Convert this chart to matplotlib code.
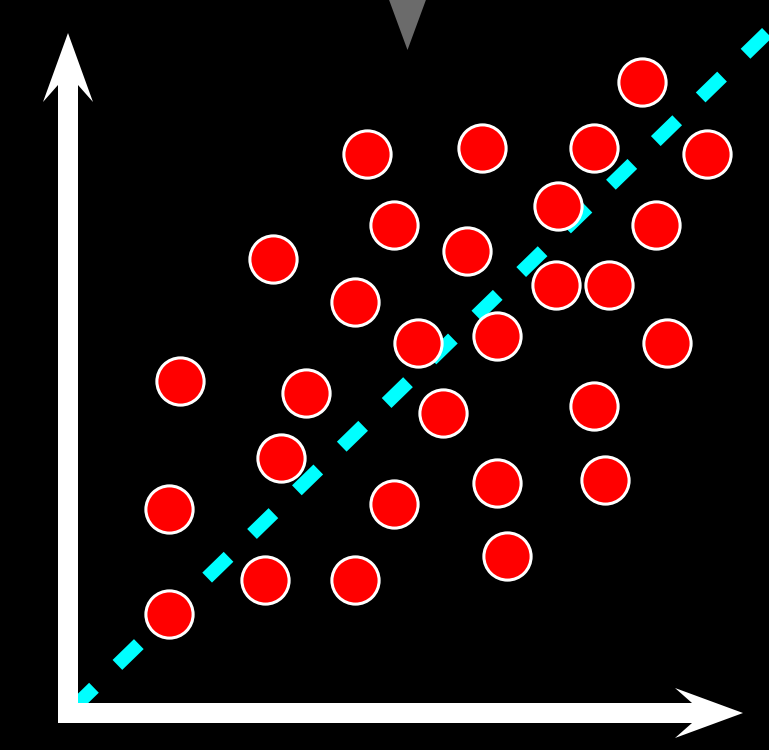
import numpy as np
import matplotlib
matplotlib.use("Agg")
import matplotlib.pyplot as plt
from matplotlib.patches import Polygon

# Data (arbitrary units, origin at the axis corner)
x_vals = [11.48, 5.98, 8.28, 10.52, 12.78, 6.52, 9.80, 11.76, 4.10, 7.98,
          5.74, 9.76, 10.82, 7.00, 8.58, 11.98, 2.24, 4.76, 7.50, 10.52,
          4.26, 2.02, 6.52, 8.58, 10.74, 8.78, 3.94, 5.74, 2.02]
y_vals = [12.62, 11.18, 11.30, 11.30, 11.18, 9.76, 10.14, 9.76, 9.08, 9.24,
          8.22, 8.56, 8.56, 7.40, 7.54, 7.40, 6.64, 6.40, 6.00, 6.14,
          5.10, 4.08, 4.18, 4.60, 4.66, 3.14, 2.66, 2.66, 1.98]
trend_slope = 0.973
trend_intercept = 0.0
trend_x = [0.0, 15.0]
marker_x = 6.79   # grey pointer at the top

fig = plt.figure(figsize=(7.69, 7.5), dpi=100, facecolor="black")
ax = fig.add_axes([0, 0, 1, 1])
ax.set_facecolor("black")
ax.set_xlim(-1.36, 14.02)
ax.set_ylim(-0.74, 14.26)
ax.axis("off")

tx = np.array(trend_x)
ax.plot(tx, trend_intercept + trend_slope * tx, color="#00ffff", lw=10,
        linestyle=(4.05, (2.15, 2.357)), dash_capstyle="butt", zorder=2)

ax.scatter(x_vals, y_vals, s=34 ** 2, c="#ff0000", edgecolors="white",
           linewidths=2.2, zorder=3)

# axis arrows
hw, head_hw = 0.2, 0.5
v_tip, v_corner, v_notch = 13.6, 12.22, 12.56
h_tip, h_corner, h_notch = 13.5, 12.14, 12.48
vert = [(-hw, -hw), (hw, -hw), (hw, v_notch), (head_hw, v_corner), (0, v_tip),
        (-head_hw, v_corner), (-hw, v_notch)]
horiz = [(-hw, -hw), (h_notch, -hw), (h_corner, -head_hw), (h_tip, 0),
         (h_corner, head_hw), (h_notch, hw), (-hw, hw)]
for pts in (vert, horiz):
    ax.add_patch(Polygon(pts, closed=True, facecolor="white", edgecolor="none", zorder=4))

# grey pointer triangle at top
apex_y, half_w_top = 13.26, 0.368
ax.add_patch(Polygon([(marker_x, apex_y), (marker_x - half_w_top * 1.2, apex_y + 1.2),
                      (marker_x + half_w_top * 1.2, apex_y + 1.2)],
                     closed=True, facecolor="#6b6b6b", edgecolor="none", zorder=4))

fig.savefig("out.png", dpi=100, facecolor="black")
